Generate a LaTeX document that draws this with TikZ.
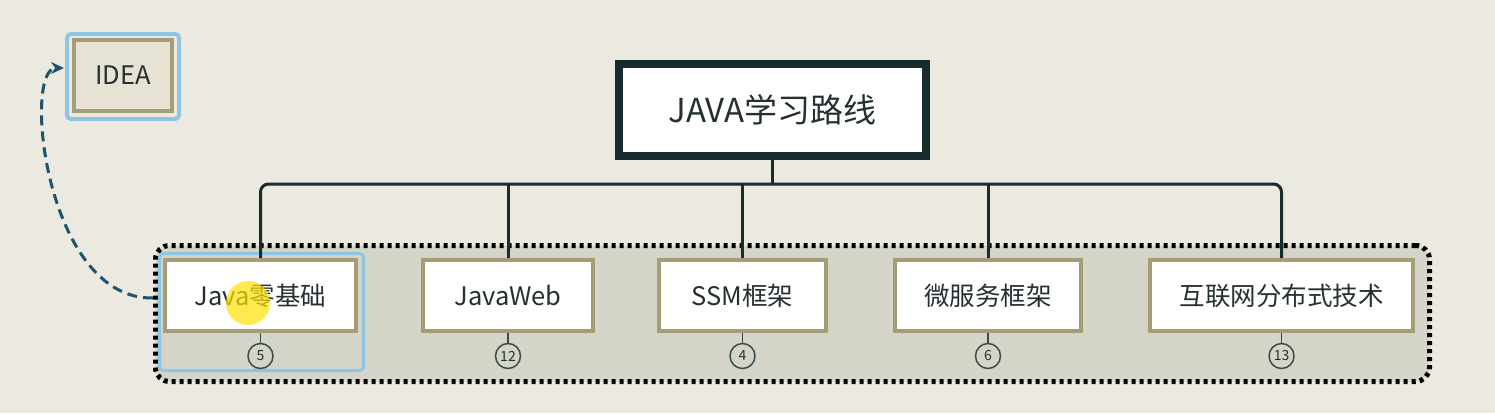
\documentclass[tikz,border=0pt]{standalone}
\usepackage{fontspec}
\setmainfont{Noto Sans CJK SC}
\usetikzlibrary{arrows.meta}
\definecolor{bgc}{RGB}{236,234,224}
\definecolor{grpfill}{RGB}{212,213,200}
\definecolor{tan}{RGB}{166,156,118}
\definecolor{dark}{RGB}{22,44,46}
\definecolor{txt}{RGB}{38,48,50}
\definecolor{selblue}{RGB}{140,198,228}
\definecolor{ideafill}{RGB}{230,226,212}
\definecolor{dashc}{RGB}{30,82,110}
\tikzset{
  child/.style={draw=tan, line width=4pt, fill=white, minimum width=#1, minimum height=71pt, inner sep=0pt, text=txt, font=\fontsize{25.5}{27}\selectfont},
  conn/.style={draw=dark, line width=3pt, rounded corners=8pt},
  numc/.style={circle, draw=dark!85, line width=1.5pt, fill=grpfill, minimum size=25pt, inner sep=0pt, text=txt, font=\fontsize{14}{15}\selectfont},
  stub/.style={draw=dark!85, line width=1.5pt},
}
\begin{document}
\begin{tikzpicture}[x=1pt,y=-1pt]
\fill[bgc] (0,0) rectangle (1495,413);
\useasboundingbox (0,0) rectangle (1495,413);
% group
\node[draw=black, fill=grpfill, line width=5pt, dash pattern=on 4pt off 4pt, rounded corners=14pt, minimum width=1274pt, minimum height=136pt, inner sep=0pt] (grp) at (792.5,313.5) {};
% selection highlight
\node[draw=selblue, line width=3pt, rounded corners=4pt, minimum width=204pt, minimum height=117pt, inner sep=0pt] (sel) at (261.5,312) {};
% root
\node[draw=dark, line width=8pt, fill=white, minimum width=307pt, minimum height=92pt, inner sep=0pt, text=txt, font=\fontsize{33}{35}\selectfont] (root) at (772.5,110) {JAVA学习路线};
% children
\node[child=191pt] (c1) at (260.5,295.5) {Java零基础};
\node[child=170pt] (c2) at (508,295.5) {JavaWeb};
\node[child=167pt] (c3) at (742.5,295.5) {SSM框架};
\node[child=186pt] (c4) at (988,295.5) {微服务框架};
\node[child=263pt] (c5) at (1281.5,295.5) {互联网分布式技术};
\coordinate (bus) at (0,184);
\draw[conn] (root.south) -- (root.south |- bus);
\draw[conn] (c1.north) |- (bus -| c5.north) -- (c5.north);
\draw[conn] (c2.north) -- (c2.north |- bus);
\draw[conn] (c3.north) -- (c3.north |- bus);
\draw[conn] (c4.north) -- (c4.north |- bus);
% number circles
\node[numc] (n1) at (c1.south |- 0,356) {5};
\node[numc] (n2) at (c2.south |- 0,356) {12};
\node[numc] (n3) at (c3.south |- 0,356) {4};
\node[numc] (n4) at (c4.south |- 0,356) {6};
\node[numc] (n5) at (c5.south |- 0,356) {13};
\foreach \i in {1,...,5} \draw[stub] (c\i.south) -- (n\i.north);
% IDEA
\node[draw=selblue, line width=4pt, rounded corners=4pt, minimum width=112pt, minimum height=85pt, inner sep=0pt] (ideasel) at (123,76.5) {};
\node[draw=tan, line width=4pt, fill=ideafill, minimum width=98pt, minimum height=71pt, inner sep=0pt, text=txt, font=\fontsize{25.5}{27}\selectfont] (idea) at (123,75.5) {IDEA};
% dashed link
\coordinate (dstart) at (grp.west |- 0,298);
\draw[dashc, line width=3pt, dash pattern=on 10pt off 6pt, -{Stealth[length=13pt,width=12pt,sep=1pt]}] (dstart) .. controls (45,300) and (22,68) .. (ideasel.west |- 0,68);
% cursor highlight
\fill[yellow!85!orange, opacity=0.7] (248,303) circle (22pt);
\end{tikzpicture}
\end{document}
